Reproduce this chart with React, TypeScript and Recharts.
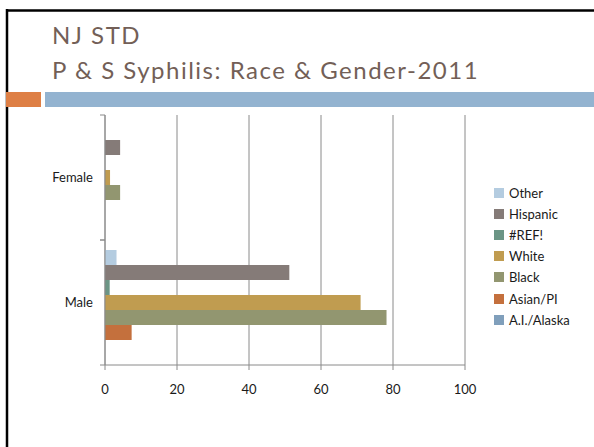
import React from 'react';
import { BarChart, Bar, XAxis, YAxis, CartesianGrid, Legend } from 'recharts';

const genders = ['Female', 'Male'];
const other = [0, 3.2];
const hispanic = [4.2, 51.2];
const refErr = [0, 1.3];
const white = [1.4, 71];
const black = [4.2, 78.2];
const asianPi = [0, 7.4];
const aiAlaska = [0, 0];
const xTicks = [0, 20, 40, 60, 80, 100];

const series = [
  { key: 'Other', values: other, color: '#b4cce0' },
  { key: 'Hispanic', values: hispanic, color: '#857b78' },
  { key: '#REF!', values: refErr, color: '#6b9585' },
  { key: 'White', values: white, color: '#c09c50' },
  { key: 'Black', values: black, color: '#929670' },
  { key: 'Asian/PI', values: asianPi, color: '#c4703d' },
  { key: 'A.I./Alaska', values: aiAlaska, color: '#809fbb' },
];

const data = genders.map((g, i) => {
  const row: Record<string, string | number> = { gender: g };
  series.forEach((s) => {
    row[s.key] = s.values[i];
  });
  return row;
});

const FONT = 'Lato, "DejaVu Sans", sans-serif';
const AXIS = '#8a8a8a';
const HALF_BAND = 62.5;

const GenderTick = (props: any) => {
  const { x, y, payload } = props;
  const ax = x + 12;
  return (
    <g>
      <line x1={ax - 5} x2={ax} y1={y - HALF_BAND} y2={y - HALF_BAND} stroke={AXIS} />
      <line x1={ax - 5} x2={ax} y1={y + HALF_BAND} y2={y + HALF_BAND} stroke={AXIS} />
      <text x={x} y={y} dy={4} textAnchor="end" fontSize={13} fill="#1a1a1a" fontFamily={FONT}>
        {payload.value}
      </text>
    </g>
  );
};

// legend keeps the series order (recharts would sort it by name)
const renderLegend = () => (
  <ul style={{ listStyle: 'none', margin: 0, padding: 0 }}>
    {series.map((s) => (
      <li key={s.key} style={{ display: 'flex', alignItems: 'center', height: 21.2 }}>
        <span style={{ width: 10, height: 10, background: s.color, display: 'inline-block', marginRight: 5 }} />
        <span style={{ fontSize: 13, color: '#1a1a1a', fontFamily: FONT }}>{s.key}</span>
      </li>
    ))}
  </ul>
);

export default function App() {
  return (
    <div style={{ position: 'absolute', left: 0, top: 0, width: 594, height: 447, background: '#fff', overflow: 'hidden' }}>
      <svg width={594} height={447} style={{ position: 'absolute', left: 0, top: 0 }}>
        <line x1={7} x2={7} y1={9} y2={447} stroke="#000" strokeWidth={2.5} />
        <line x1={6} x2={594} y1={10.5} y2={10.5} stroke="#000" strokeWidth={2.5} />
        <rect x={6} y={92} width={35} height={15} fill="#de7f45" />
        <rect x={45} y={92} width={549} height={15} fill="#93b3d0" />
        <text x={52} y={43.5} fontSize={24} fill="#735f57" fontFamily={FONT} letterSpacing={1.5}>
          NJ STD
        </text>
        <text x={52} y={79} fontSize={24} fill="#735f57" fontFamily={FONT} letterSpacing={1.5}>
          P &amp; S Syphilis: Race &amp; Gender-2011
        </text>
      </svg>
      <div style={{ position: 'absolute', left: 0, top: 0 }}>
        <BarChart
          width={594}
          height={447}
          data={data}
          layout="vertical"
          margin={{ top: 115, right: 129, bottom: 52, left: 0 }}
          barCategoryGap={10}
          barGap={0}
        >
          <CartesianGrid vertical horizontal={false} stroke={AXIS} />
          <XAxis
            type="number"
            domain={[0, 100]}
            ticks={xTicks}
            height={30}
            stroke={AXIS}
            tickSize={5}
            tickMargin={15}
            tick={{ fontSize: 13, fill: '#1a1a1a', fontFamily: FONT }}
          />
          <YAxis
            type="category"
            dataKey="gender"
            width={105}
            stroke={AXIS}
            tickLine={false}
            tickSize={6}
            tickMargin={6}
            tick={<GenderTick />}
          />
          <Legend
            layout="vertical"
            align="center"
            verticalAlign="middle"
            content={renderLegend}
            wrapperStyle={{ left: 494, top: 182, width: 100 }}
          />
          {series.map((s) => (
            <Bar key={s.key} dataKey={s.key} fill={s.color} isAnimationActive={false} />
          ))}
        </BarChart>
      </div>
    </div>
  );
}
